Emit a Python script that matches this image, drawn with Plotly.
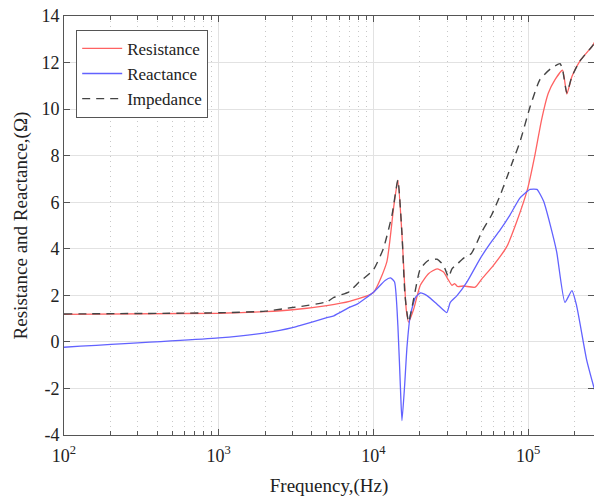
import plotly.graph_objects as go

# Frequencies (Hz) and values
res_f = [100, 1000, 2000, 3000, 5000, 7000, 10000, 12200, 13500, 14400, 15300, 16300, 16900,
         18200, 20100, 22700, 25800, 28400, 30600, 32200, 33500, 35000, 38300, 45500, 50300,
         59700, 72800, 84500, 99000, 111000, 122000, 135000, 149000, 167000, 178000, 192000,
         216000, 263000, 270000]
res_v = [1.18, 1.23, 1.30, 1.38, 1.56, 1.74, 2.12, 3.43, 5.75, 6.95, 4.6, 1.4, 0.85,
         1.4, 2.43, 2.93, 3.14, 3.0, 2.65, 2.43, 2.5, 2.38, 2.4, 2.35, 2.71,
         3.29, 4.09, 5.17, 6.55, 8.07, 9.52, 10.68, 11.26, 11.67, 10.65, 11.4,
         12.06, 12.75, 12.9]

rea_f = [100, 1000, 2000, 3000, 3380, 5000, 5550, 7000, 7850, 10000, 11900, 12900, 13700,
         14400, 15000, 15300, 15900, 16500, 17300, 18700, 20100, 22200, 25800, 29800,
         31400, 34700, 40200, 49000, 56900, 66000, 76500, 88700, 103000, 114000, 126000,
         139000, 153000, 173000, 192000, 206000, 239000, 270000]
rea_v = [-0.23, 0.17, 0.39, 0.61, 0.71, 1.04, 1.12, 1.48, 1.62, 2.13, 2.64, 2.75, 2.57,
         0.68, -2.2, -3.38, -1.93, -0.19, 1.12, 1.91, 2.1, 1.99, 1.62, 1.26,
         1.7, 1.99, 2.57, 3.58, 4.23, 4.81, 5.46, 6.19, 6.55, 6.55, 6.04,
         5.03, 3.87, 1.7, 2.2, 1.55, -0.77, -2.1]

imp_f = [100, 1000, 2000, 3000, 3380, 5000, 5550, 7000, 7850, 10000, 11600, 13200, 14400,
         15300, 16000, 16900, 18200, 20100, 22700, 25800, 28400, 30600, 32200, 35000,
         38300, 43000, 50300, 58200, 66000, 72800, 80000, 88700, 103000, 119000, 139000,
         161000, 167000, 178000, 192000, 216000, 263000, 270000]
imp_v = [1.2, 1.25, 1.32, 1.48, 1.52, 1.72, 1.91, 2.16, 2.49, 3.1, 4.01, 5.46, 6.95,
         4.65, 2.0, 0.85, 1.84, 3.14, 3.5, 3.55, 3.29, 2.78, 3.14, 3.36,
         3.6, 3.8, 4.74, 5.46, 6.3, 7.05, 7.8, 8.6, 10.1, 11.26, 11.72,
         11.95, 11.7, 10.7, 11.4, 12.06, 12.75, 12.9]

x_tickvals = [1e2, 1e3, 1e4, 1e5]
x_ticktext = ["10<sup>2</sup>", "10<sup>3</sup>", "10<sup>4</sup>", "10<sup>5</sup>"]
x_minorvals = [m * d for d in (1e2, 1e3, 1e4, 1e5) for m in range(2, 10)]
y_tickvals = [-4, -2, 0, 2, 4, 6, 8, 10, 12, 14]
y_ticktext = ["-4", "-2", "0", "2", "4", "6", "8", "10", "12", "14"]

FONT = "Liberation Serif, Times New Roman, serif"

fig = go.Figure()
fig.add_trace(go.Scatter(x=res_f, y=res_v, mode="lines", name="Resistance",
                         line=dict(color="#ff6262", width=1.3, shape="spline", smoothing=0.5)))
fig.add_trace(go.Scatter(x=rea_f, y=rea_v, mode="lines", name="Reactance",
                         line=dict(color="#6262ff", width=1.3, shape="spline", smoothing=0.5)))
fig.add_trace(go.Scatter(x=imp_f, y=imp_v, mode="lines", name="Impedance",
                         line=dict(color="#444444", width=1.4, dash="8px,6px",
                                   shape="spline", smoothing=0.5)))

fig.update_layout(
    width=594, height=497,
    margin=dict(l=64, r=0, t=16, b=62, autoexpand=False),
    paper_bgcolor="white", plot_bgcolor="white",
    font=dict(family=FONT, size=17, color="#222222"),
    showlegend=True,
    legend=dict(x=0.023, y=0.967, xanchor="left", yanchor="top",
                bgcolor="white", bordercolor="#555555", borderwidth=1,
                font=dict(family=FONT, size=17, color="#222222"),
                tracegroupgap=0, itemwidth=40),
)

fig.update_xaxes(
    type="log", range=[2, 5.426], automargin=False,
    tickvals=x_tickvals, ticktext=x_ticktext,
    showgrid=True, gridcolor="#e2e2e2", gridwidth=1,
    minor=dict(tickvals=x_minorvals, ticks="inside", ticklen=4, tickcolor="#555555",
               showgrid=True, gridcolor="#c8c8c8", griddash="1px,4px", gridwidth=1),
    ticks="inside", ticklen=6, tickcolor="#555555",
    showline=True, linecolor="#555555", linewidth=1, mirror="ticks",
    title=dict(text="Frequency,(Hz)", font=dict(family=FONT, size=19), standoff=14),
    tickfont=dict(family=FONT, size=18), ticklabelstandoff=4,
    zeroline=False,
)
fig.update_yaxes(
    range=[-4, 14], automargin=False,
    tickvals=y_tickvals, ticktext=y_ticktext,
    showgrid=True, gridcolor="#e2e2e2", gridwidth=1,
    ticks="inside", ticklen=6, tickcolor="#555555",
    showline=True, linecolor="#555555", linewidth=1, mirror="ticks",
    title=dict(text="Resistance and Reactance,(Ω)", font=dict(family=FONT, size=19), standoff=8),
    tickfont=dict(family=FONT, size=18),
    zeroline=False,
)

fig.write_html("out.html", config={"displayModeBar": False},
               post_script="document.body.style.margin='0';document.body.style.overflow='hidden';")
